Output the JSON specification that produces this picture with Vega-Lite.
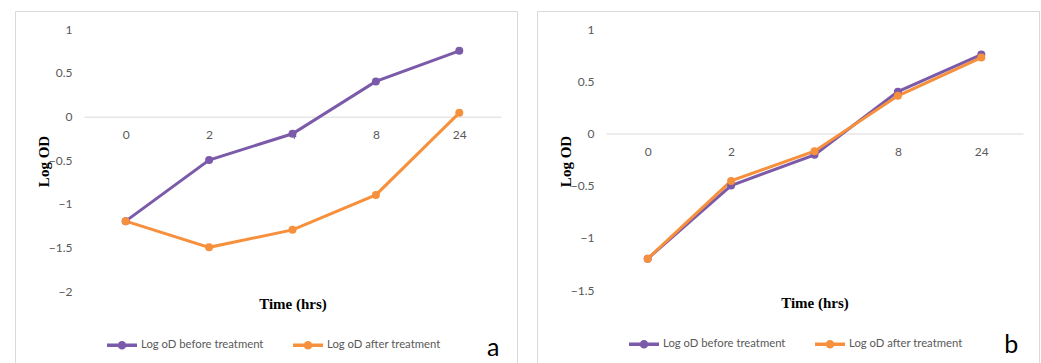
{
  "$schema": "https://vega.github.io/schema/vega-lite/v6.json",
  "padding": {"left": 14, "top": 10, "right": 0, "bottom": 0},
  "background": "white",
  "spacing": 18,
  "config": {
    "view": {"stroke": "#d9d9d9", "strokeWidth": 1},
    "axis": {"labelFont": "Lato", "labelFontSize": 12, "labelColor": "#595959", "titleFont": "Liberation Serif", "titleFontSize": 15, "titleFontWeight": "bold", "titleColor": "#000000", "grid": false, "ticks": false, "tickSize": 0},
    "legend": {"labelFont": "Lato", "labelFontSize": 11.3, "labelColor": "#595959"}
  },
  "datasets": {
    "a": [
      {"time": "0", "series": "Log oD before treatment", "logod": -1.2},
      {"time": "2", "series": "Log oD before treatment", "logod": -0.5},
      {"time": "4", "series": "Log oD before treatment", "logod": -0.2},
      {"time": "8", "series": "Log oD before treatment", "logod": 0.4},
      {"time": "24", "series": "Log oD before treatment", "logod": 0.75},
      {"time": "0", "series": "Log oD after treatment", "logod": -1.2},
      {"time": "2", "series": "Log oD after treatment", "logod": -1.5},
      {"time": "4", "series": "Log oD after treatment", "logod": -1.3},
      {"time": "8", "series": "Log oD after treatment", "logod": -0.9},
      {"time": "24", "series": "Log oD after treatment", "logod": 0.04}
    ],
    "b": [
      {"time": "0", "series": "Log oD before treatment", "logod": -1.2},
      {"time": "2", "series": "Log oD before treatment", "logod": -0.5},
      {"time": "4", "series": "Log oD before treatment", "logod": -0.205},
      {"time": "8", "series": "Log oD before treatment", "logod": 0.4},
      {"time": "24", "series": "Log oD before treatment", "logod": 0.755},
      {"time": "0", "series": "Log oD after treatment", "logod": -1.2},
      {"time": "2", "series": "Log oD after treatment", "logod": -0.455},
      {"time": "4", "series": "Log oD after treatment", "logod": -0.17},
      {"time": "8", "series": "Log oD after treatment", "logod": 0.36},
      {"time": "24", "series": "Log oD after treatment", "logod": 0.726}
    ],
    "la": [{"label": "a"}],
    "lb": [{"label": "b"}]
  },
  "resolve": {"scale": {"x": "independent", "y": "independent", "color": "independent"}, "legend": {"color": "independent"}},
  "hconcat": [
    {
      "width": 502,
      "height": 352,
      "layer": [
        {
          "data": {"name": "a"},
          "mark": {"type": "line", "strokeWidth": 3},
          "encoding": {
            "x": {"field": "time", "type": "ordinal", "scale": {"type": "point", "domain": ["0", "2", "4", "8", "24"], "range": [69, 486], "padding": 0.5},
              "axis": {"title": "Time (hrs)", "orient": "bottom", "offset": -246.3, "domainColor": "#d9d9d9", "domainWidth": 1, "labelPadding": 13, "labelAngle": 0, "titleY": 187, "titleBaseline": "middle"}},
            "y": {"field": "logod", "type": "quantitative", "scale": {"domain": [-2, 1], "range": [280, 18], "nice": false, "zero": false},
              "axis": {"title": "Log OD", "orient": "left", "offset": -69, "domain": false, "format": "~g", "values": [-2, -1.5, -1, -0.5, 0, 0.5, 1], "labelPadding": 12, "titleX": -41, "titleY": 150, "titleAngle": -90, "titleAlign": "center", "titleBaseline": "middle"}},
            "color": {"field": "series", "type": "nominal", "scale": {"domain": ["Log oD before treatment", "Log oD after treatment"], "range": ["#7B5AAA", "#F7903C"]},
              "legend": {"title": null, "orient": "none", "direction": "horizontal", "legendX": 90, "legendY": 317, "symbolType": "M-1,0L1,0M-0.17,0A0.17,0.17,0,1,0,0.17,0A0.17,0.17,0,1,0,-0.17,0Z", "symbolSize": 900, "symbolStrokeWidth": 3.5, "labelOffset": 2, "columnPadding": 22}}
          }
        },
        {
          "data": {"name": "a"},
          "mark": {"type": "point", "filled": true, "size": 64, "opacity": 1},
          "encoding": {
            "x": {"field": "time", "type": "ordinal"},
            "y": {"field": "logod", "type": "quantitative"},
            "color": {"field": "series", "type": "nominal"}
          }
        },
        {
          "data": {"name": "la"},
          "mark": {"type": "text", "fontSize": 25, "font": "Lato", "dx": 34, "baseline": "middle", "align": "center", "color": "#000000"},
          "encoding": {"x": {"datum": "24"}, "y": {"datum": -2.65}, "text": {"field": "label", "type": "nominal"}}
        }
      ]
    },
    {
      "width": 502,
      "height": 352,
      "layer": [
        {
          "data": {"name": "b"},
          "mark": {"type": "line", "strokeWidth": 3},
          "encoding": {
            "x": {"field": "time", "type": "ordinal", "scale": {"type": "point", "domain": ["0", "2", "4", "8", "24"], "range": [69, 486], "padding": 0.5},
              "axis": {"title": "Time (hrs)", "orient": "bottom", "offset": -229.5, "domainColor": "#d9d9d9", "domainWidth": 1, "labelPadding": 13, "labelAngle": 0, "titleY": 169, "titleBaseline": "middle"}},
            "y": {"field": "logod", "type": "quantitative", "scale": {"domain": [-1.5, 1], "range": [279, 18], "nice": false, "zero": false},
              "axis": {"title": "Log OD", "orient": "left", "offset": -69, "domain": false, "format": "~g", "values": [-1.5, -1, -0.5, 0, 0.5, 1], "labelPadding": 12, "titleX": -41, "titleY": 150, "titleAngle": -90, "titleAlign": "center", "titleBaseline": "middle"}},
            "color": {"field": "series", "type": "nominal", "scale": {"domain": ["Log oD before treatment", "Log oD after treatment"], "range": ["#7B5AAA", "#F7903C"]},
              "legend": {"title": null, "orient": "none", "direction": "horizontal", "legendX": 90, "legendY": 316, "symbolType": "M-1,0L1,0M-0.17,0A0.17,0.17,0,1,0,0.17,0A0.17,0.17,0,1,0,-0.17,0Z", "symbolSize": 900, "symbolStrokeWidth": 3.5, "labelOffset": 2, "columnPadding": 22}}
          }
        },
        {
          "data": {"name": "b"},
          "mark": {"type": "point", "filled": true, "size": 64, "opacity": 1},
          "encoding": {
            "x": {"field": "time", "type": "ordinal"},
            "y": {"field": "logod", "type": "quantitative"},
            "color": {"field": "series", "type": "nominal"}
          }
        },
        {
          "data": {"name": "lb"},
          "mark": {"type": "text", "fontSize": 25, "font": "Lato", "dx": 30, "baseline": "middle", "align": "center", "color": "#000000"},
          "encoding": {"x": {"datum": "24"}, "y": {"datum": -2.03}, "text": {"field": "label", "type": "nominal"}}
        }
      ]
    }
  ]
}
